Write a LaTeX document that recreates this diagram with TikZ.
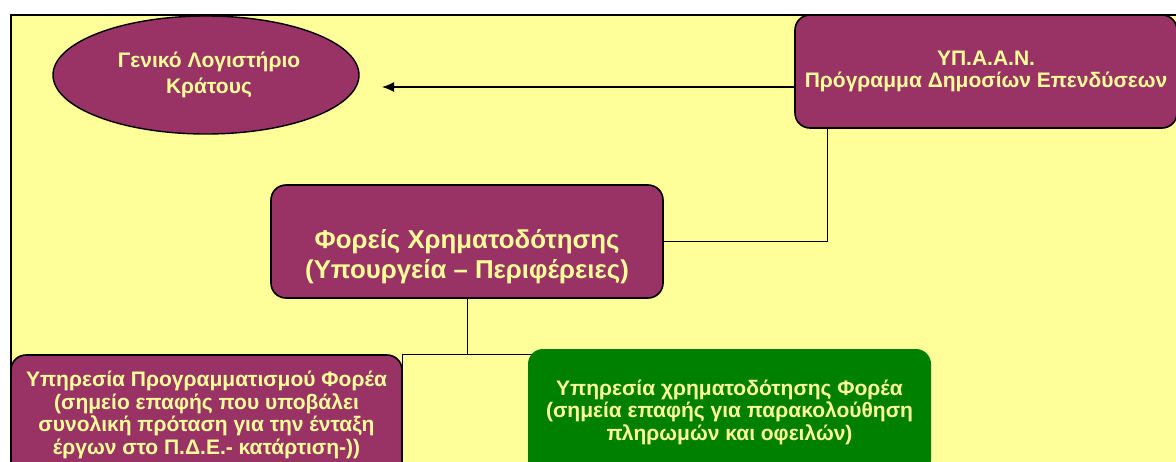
\documentclass[tikz,border=0pt]{standalone}
\usepackage{fontspec}
\setmainfont{Liberation Sans}
\usetikzlibrary{positioning,arrows.meta,shapes.geometric}
\definecolor{sheetFill}{HTML}{FFFF99}
\definecolor{plumFill}{HTML}{993366}
\definecolor{leafFill}{HTML}{008000}
\definecolor{cream}{HTML}{FFFF99}
\pgfdeclarelayer{sheet}
\pgfdeclarelayer{wires}
\pgfsetlayers{sheet,wires,main}

\begin{document}
\begin{tikzpicture}[
    x=1pt, y=-1pt,
    >={Latex[length=12pt,width=10pt]},
    every node/.style={font=\bfseries, text=cream, align=center, inner sep=0pt},
    plain/.style={font=\fontsize{21}{22.5}\selectfont\bfseries},
    roomy/.style={font=\fontsize{21}{25.5}\selectfont\bfseries},
    large/.style={font=\fontsize{25.8}{30}\selectfont\bfseries},
    unit/.style={rectangle, rounded corners=15pt, line width=1.6pt},
    plumbox/.style={unit, draw=black, fill=plumFill},
    leafbox/.style={unit, draw=none, fill=leafFill},
    oval/.style={ellipse, draw=black, fill=plumFill, line width=1.4pt},
    link/.style={draw=black, line width=0.9pt},
    arr/.style={->, draw=black, line width=1.3pt},
]

\useasboundingbox (0,0) rectangle (1176,461);
\clip (0,0) rectangle (1176,461);

% --- Yellow sheet ---
\begin{pgfonlayer}{sheet}
\draw[fill=sheetFill, line width=1.8pt] (11,15) rectangle (1200,480);
\end{pgfonlayer}

% --- Top row ---
\node[oval, roomy, minimum width=306pt, minimum height=118pt] (glk) at (206,75)
    {\hspace*{6pt}Γενικό Λογιστήριο\\\hspace*{6pt}Κράτους};

\node[plumbox, plain, minimum width=382pt, minimum height=113pt] (ypaan) at (986,71.5)
    {ΥΠ.Α.Α.Ν.\\Πρόγραμμα Δημοσίων Επενδύσεων};

% --- Middle (text sits low in the box) ---
\node[plumbox, minimum width=392pt, minimum height=113pt] (foreis) at (467,241.5) {};
\node[large] (foreisText) at ([yshift=-15pt]foreis.center)
    {Φορείς Χρηματοδότησης\\(Υπουργεία – Περιφέρειες)};

% --- Bottom row ---
\node[plumbox, plain, minimum width=391pt, minimum height=120pt] (prog) at (206.5,415)
    {Υπηρεσία Προγραμματισμού Φορέα\\
     (σημείο επαφής που υποβάλει\\
     συνολική πρόταση για την ένταξη\\
     έργων στο Π.Δ.Ε.- κατάρτιση-))};

\node[leafbox, plain, minimum width=403pt, minimum height=126pt] (svc) at (729.5,412)
    {Υπηρεσία χρηματοδότησης Φορέα\\
     (σημεία επαφής για παρακολούθηση\\
     πληρωμών και οφειλών)};

% --- Connectors ---
\coordinate (tip) at (382,87);
\draw[arr] (tip -| ypaan.west) -- (tip);

\begin{pgfonlayer}{wires}
\draw[link] (foreis.east) -| ([xshift=33pt]ypaan.south west);
\draw[link] (foreis.south) -- (foreis.south |- prog.north);
\draw[link] (prog.south east) |- ([xshift=5pt]svc.north west |- prog.north)
    -- ([xshift=5pt]svc.west);
\end{pgfonlayer}

\end{tikzpicture}
\end{document}
